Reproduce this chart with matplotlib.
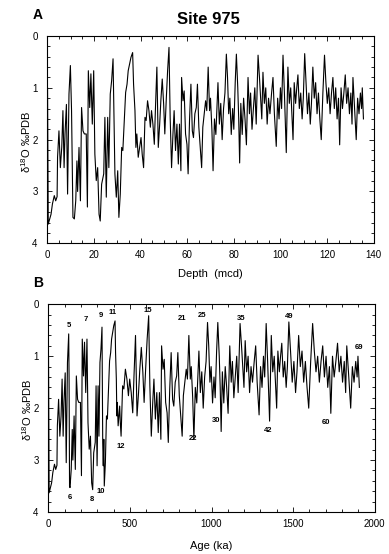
import numpy as np
import matplotlib
matplotlib.use("Agg")
import matplotlib.pyplot as plt
from matplotlib.ticker import MultipleLocator

plt.rcParams['font.family'] = ['Liberation Sans', 'DejaVu Sans']
plt.rcParams['mathtext.fontset'] = 'custom'
plt.rcParams['mathtext.rm'] = 'Liberation Sans'

# ---- data: oxygen isotope record vs depth (mcd) ----
depth = [0.1, 0.4, 1.6, 2.2, 3.0, 3.6, 4.2, 4.4, 5.0, 5.6, 6.2, 6.7, 7.2, 7.6, 8.2, 8.7, 9.3, 9.9,
         10.4, 11.0, 11.6, 12.2, 12.7, 13.0, 13.6, 14.2, 14.7, 15.3, 15.9, 16.7, 17.2, 17.6, 18.2,
         18.7, 19.3, 19.9, 20.4, 21.0, 21.6, 22.2, 22.7, 23.3, 24.2, 24.7, 25.3, 25.9, 26.4, 27.0,
         27.6, 28.2, 28.6, 29.0, 29.6, 30.2, 30.7, 31.3, 31.9, 32.4, 33.0, 33.6, 34.2, 34.7, 35.3,
         35.9, 36.6, 37.0, 37.6, 38.0, 38.4, 39.0, 39.6, 40.2, 40.7, 41.3, 41.9, 42.4, 43.0, 43.6,
         44.2, 44.7, 45.3, 45.9, 46.4, 47.0, 47.6, 48.2, 48.7, 49.3, 49.9, 50.4, 51.0, 51.6, 52.2,
         52.7, 53.3, 53.9, 54.4, 55.0, 55.6, 56.2, 56.7, 57.3, 57.6, 58.2, 58.7, 59.3, 59.9, 60.4,
         61.0, 61.6, 62.2, 62.7, 63.3, 63.9, 64.4, 65.0, 65.6, 66.2, 66.7, 67.3, 67.9, 68.4, 69.0,
         69.6, 70.0, 70.6, 71.1, 71.7, 72.3, 73.2, 73.8, 74.4, 75.0, 75.6, 76.2, 76.8, 77.3, 77.8,
         78.3, 78.9, 79.5, 80.0, 80.6, 81.1, 81.7, 82.1, 82.5, 83.0, 83.6, 84.2, 84.8, 85.4, 86.1,
         86.7, 87.2, 87.8, 88.4, 89.0, 89.6, 90.4, 91.0, 91.5, 92.0, 92.5, 93.1, 93.7, 94.3, 94.9,
         95.5, 96.2, 96.8, 97.4, 98.2, 98.8, 99.4, 100.0, 100.5, 101.1, 101.7, 102.5, 103.2, 103.8,
         104.4, 105.0, 105.4, 105.9, 106.5, 107.0, 107.5, 108.1, 108.7, 109.3, 109.8, 110.4, 111.0,
         111.6, 112.2, 112.8, 113.3, 113.9, 114.5, 115.1, 115.7, 116.3, 116.9, 117.5, 118.2, 118.9,
         119.5, 120.1, 120.7, 121.3, 121.9, 122.5, 123.1, 123.7, 124.3, 124.9, 125.4, 126.0, 126.6,
         127.2, 127.8, 128.4, 129.0, 129.6, 130.2, 130.7, 131.1, 131.7, 132.5, 133.1, 133.7, 134.3,
         134.8, 135.1, 135.6]
d18o = [1.00, 3.63, 3.44, 3.24, 3.08, 3.18, 3.10, 2.34, 1.83, 2.54, 2.15, 1.44, 2.54, 1.89, 1.32,
        3.05, 1.12, 0.57, 1.44, 3.50, 3.53, 3.18, 2.41, 3.00, 2.15, 3.18, 1.38, 1.83, 1.89, 1.89,
        3.30, 0.67, 1.38, 0.73, 1.70, 0.67, 2.28, 2.79, 2.54, 3.44, 3.57, 2.86, 2.66, 1.57, 3.11,
        1.57, 2.54, 1.12, 0.86, 0.44, 1.57, 2.66, 3.11, 2.60, 3.50, 3.05, 2.15, 2.21, 1.63, 1.09,
        0.93, 0.67, 0.54, 0.41, 0.32, 0.93, 1.44, 2.15, 1.89, 2.34, 2.15, 1.96, 2.28, 2.54, 1.57,
        1.63, 1.25, 1.44, 1.76, 1.44, 1.70, 2.09, 1.38, 0.60, 2.15, 1.70, 1.25, 0.83, 1.31, 1.89,
        1.25, 0.67, 0.22, 1.57, 2.54, 1.89, 1.44, 2.21, 1.70, 2.47, 1.70, 2.60, 0.80, 1.25, 1.06,
        1.89, 2.09, 2.66, 1.63, 0.93, 1.83, 1.96, 1.50, 1.38, 0.93, 1.76, 2.15, 2.54, 1.76, 1.50,
        1.25, 1.44, 0.60, 1.44, 1.20, 1.80, 2.60, 1.60, 1.90, 0.90, 1.70, 1.30, 2.00, 1.40, 1.10,
        0.35, 0.80, 1.50, 1.20, 1.90, 1.40, 1.80, 0.90, 0.35, 1.00, 1.60, 2.45, 1.30, 1.90, 1.20,
        1.60, 2.10, 0.80, 1.50, 1.10, 1.80, 1.40, 1.00, 1.70, 0.37, 0.80, 1.20, 1.60, 0.70, 1.30,
        1.00, 1.70, 1.20, 1.50, 1.10, 0.80, 1.50, 2.13, 1.20, 1.60, 1.00, 1.40, 0.37, 1.10, 2.25,
        0.60, 1.30, 1.00, 1.60, 2.00, 0.90, 1.30, 1.00, 0.75, 1.40, 1.10, 1.60, 1.20, 0.34, 0.90,
        1.50, 1.10, 1.70, 1.30, 0.60, 1.20, 0.90, 1.50, 1.10, 1.60, 2.00, 1.10, 0.37, 0.90, 1.30,
        1.00, 1.50, 1.10, 0.80, 1.40, 1.00, 1.60, 1.20, 2.10, 1.00, 1.40, 1.10, 0.75, 1.30, 1.00,
        1.50, 1.10, 1.70, 0.80, 1.30, 2.00, 1.20, 1.50, 1.10, 1.40, 1.00, 1.60]

# ---- age model tie points (depth mcd -> age ka) ----
tie_depth = [0, 9.9, 11.6, 22.7, 28.2, 30.7, 36.6, 41.3, 52.2, 90.4, 110.4, 135.6]
tie_age = [0, 125, 133, 272, 329, 343, 409, 446, 615, 1175, 1474, 1906]

# ---- marine isotope stage labels (age ka, d18O position) ----
stage_labels = ['5', '7', '9', '11', '15', '21', '25', '35', '49', '69',
                '6', '8', '10', '12', '22', '30', '42', '60']
stage_age = [129, 229, 323, 394, 609, 817, 940, 1179, 1477, 1904,
             133, 266, 323, 444, 885, 1028, 1344, 1702]
stage_val = [0.40, 0.30, 0.22, 0.16, 0.12, 0.27, 0.22, 0.27, 0.24, 0.84,
             3.72, 3.76, 3.61, 2.74, 2.58, 2.23, 2.44, 2.28]

age = np.interp(depth, tie_depth, tie_age)

W, H = 389, 554
fig = plt.figure(figsize=(W / 100, H / 100), dpi=100)
axA = fig.add_axes([47.3 / W, 1 - 243.3 / H, 326.4 / W, 207.3 / H])
axB = fig.add_axes([48.3 / W, 1 - 512 / H, 326.4 / W, 207.7 / H])

ylab = 'δ$^{\\mathregular{18}}$O ‰PDB'

for ax in (axA, axB):
    ax.set_ylim(4, 0)
    ax.yaxis.set_major_locator(MultipleLocator(1))
    ax.yaxis.set_minor_locator(MultipleLocator(0.2))
    ax.tick_params(which='both', direction='in', top=True, right=True,
                   width=0.6, labelsize=7, colors='black')
    ax.tick_params(which='major', length=3.5)
    ax.tick_params(which='minor', length=2.5)
    ax.tick_params(axis='y', pad=7)
    ax.tick_params(axis='x', pad=5)
    for s in ax.spines.values():
        s.set_linewidth(0.8)
    ax.set_ylabel(ylab, fontsize=8)
    ax.yaxis.set_label_coords(-0.045, 0.49)

axA.plot(depth, d18o, color='black', lw=0.8)
axA.set_xlim(0, 140)
axA.xaxis.set_major_locator(MultipleLocator(20))
axA.xaxis.set_minor_locator(MultipleLocator(5))
axA.set_xlabel('Depth  (mcd)', fontsize=8, labelpad=6)

axB.plot(age, d18o, color='black', lw=0.8)
axB.set_xlim(0, 2000)
axB.xaxis.set_major_locator(MultipleLocator(500))
axB.xaxis.set_minor_locator(MultipleLocator(100))
axB.set_xlabel('Age (ka)', fontsize=8, labelpad=9)

for lab, a, v in zip(stage_labels, stage_age, stage_val):
    axB.text(a, v, lab, fontsize=5.5, fontweight='bold', ha='center', va='center')

fig.text(208 / W, 1 - 20 / H, 'Site 975', fontsize=12, fontweight='bold', ha='center', va='center')
fig.text(38 / W, 1 - 15 / H, 'A', fontsize=10, fontweight='bold', ha='center', va='center')
fig.text(38 / W, 1 - 283 / H, 'B', fontsize=10, fontweight='bold', ha='center', va='center')

fig.savefig('out.png', dpi=100)
